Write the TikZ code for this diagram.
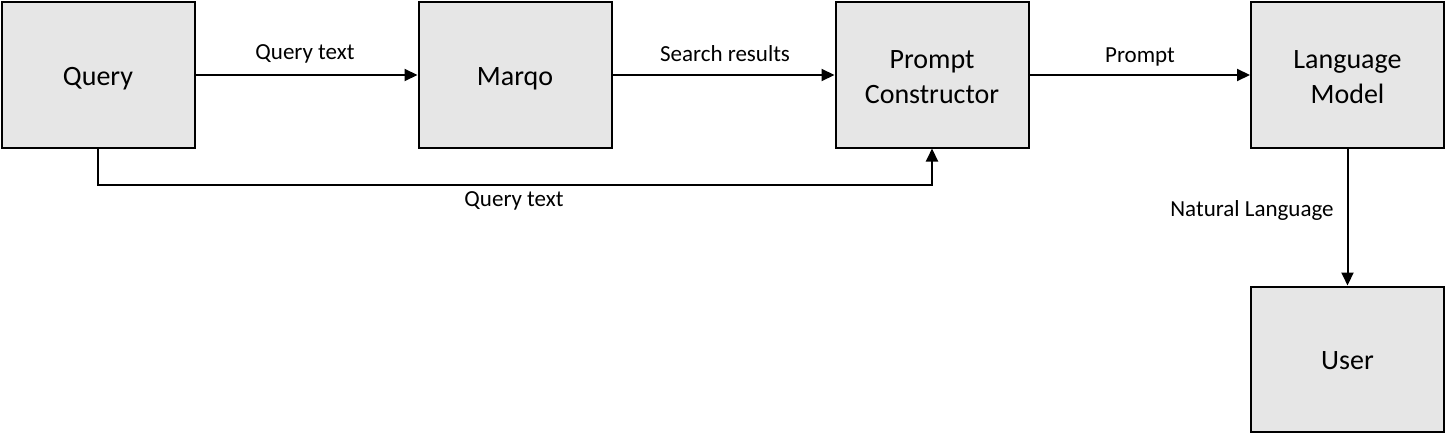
\documentclass[tikz,border=0pt]{standalone}
\usepackage{fontspec}
\setmainfont{Carlito}
\usetikzlibrary{arrows.meta}
\definecolor{boxfill}{HTML}{E6E6E6}
\newcommand{\lowr}[2]{\raisebox{-#1}[\height][\depth]{\begin{tabular}{@{}c@{}}#2\end{tabular}}}
\tikzset{
  blk/.style={draw=black, line width=2pt, fill=boxfill, minimum width=193pt, minimum height=145pt, inner sep=0pt, font=\fontsize{28}{34}\selectfont, align=center},
  arr/.style={line width=2pt, -{Triangle[length=13pt,width=12pt]}},
  lbl/.style={font=\fontsize{23}{27}\selectfont, inner sep=0pt}
}
\begin{document}
\begin{tikzpicture}[x=1pt,y=-1pt]
\useasboundingbox[fill=white] (0,0) rectangle (1447,433);
\node[blk] (q) at (98,75) {\lowr{4pt}{Query}};
\node[blk] (m) at (515,75) {\lowr{4pt}{Marqo}};
\node[blk] (pc) at (932,75) {\lowr{4pt}{Prompt\\[1pt]Constructor}};
\node[blk] (lm) at (1347.5,75) {\lowr{4pt}{Language\\[1pt]Model}};
\node[blk] (u) at (1347.5,359) {\lowr{4pt}{User}};
\draw[arr] (q.east) -- (m.west);
\draw[arr] (m.east) -- (pc.west);
\draw[arr] (pc.east) -- (lm.west);
\draw[arr] (q.south) -- ++(0,36) -| (pc.south);
\draw[arr] (lm.south) -- (u.north);
\node[lbl] (l1) at (305,54) {Query text};
\node[lbl] (l2) at (725,54) {Search results};
\node[lbl] (l3) at (1140,57) {Prompt};
\node[lbl] (l4) at (514,201) {Query text};
\node[lbl] (l5) at (1252,210) {Natural Language};
\end{tikzpicture}
\end{document}
